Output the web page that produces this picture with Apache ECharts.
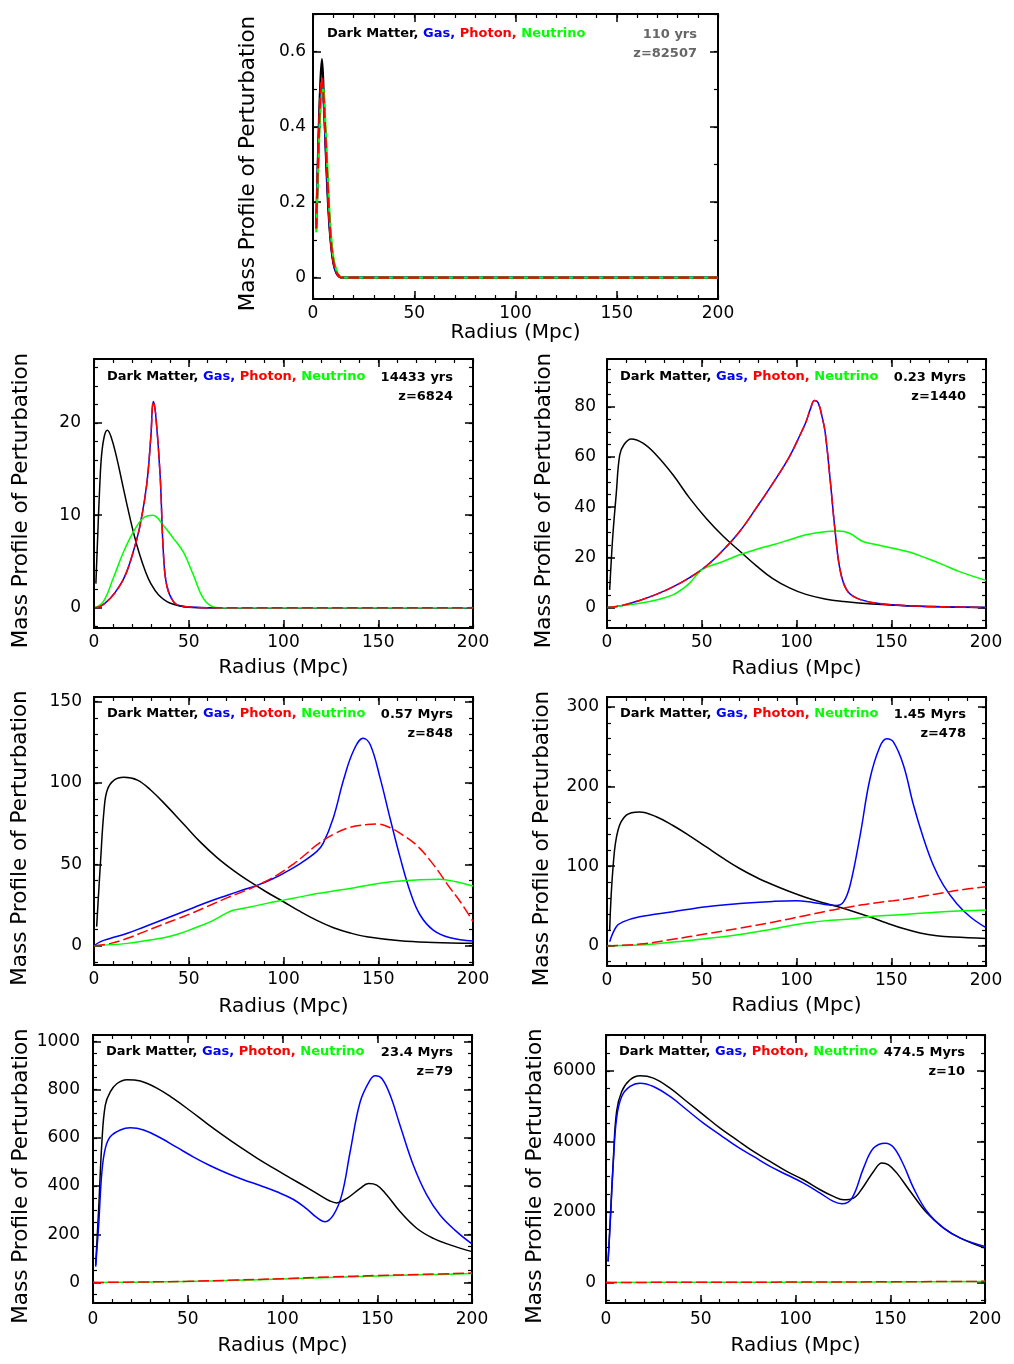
<!DOCTYPE html>
<html>
<head>
<meta charset="utf-8">
<title>Mass Profile of Perturbation</title>
<script src="https://cdn.jsdelivr.net/npm/echarts@6/dist/echarts.min.js"></script>
<style>html,body{margin:0;padding:0;background:#fff}</style>
</head>
<body>
<div id="chart" style="width:1014px;height:1364px"></div>
<script type="text/javascript">
// ---- data: [radius (Mpc), mass profile] ----
var xTicks = [0, 50, 100, 150, 200];

// panel 1 : 110 yrs
var p1_yTicks = [0, 0.2, 0.4, 0.6];
var p1_dm = [[1.6,0.14],[2.5,0.33],[3.5,0.5],[4.4,0.58],[5.2,0.5],[6.2,0.35],[7.3,0.21],[8.5,0.11],[10,0.04],[11.5,0.012],[13,0.002],[14,0],[60,0],[200,0]];
var p1_gas = [[1.6,0.13],[2.5,0.3],[3.5,0.45],[4.4,0.51],[5.2,0.47],[6.2,0.36],[7.3,0.23],[8.5,0.12],[10,0.045],[11.5,0.015],[13,0.003],[14,0],[60,0],[200,0]];
var p1_photon = [[1.6,0.13],[2.5,0.31],[3.5,0.47],[4.4,0.53],[5.2,0.48],[6.2,0.37],[7.3,0.24],[8.5,0.12],[10,0.045],[11.5,0.015],[13,0.003],[14,0],[60,0],[200,0]];
var p1_nu = [[1.6,0.12],[2.5,0.28],[3.5,0.43],[4.4,0.49],[5,0.5],[6.2,0.4],[7.3,0.27],[8.5,0.14],[10,0.055],[11.5,0.02],[13,0.004],[14.5,0],[60,0],[200,0]];

// panel 2 : 14433 yrs
var p2_yTicks = [0, 10, 20];
var p2_dm = [[1,2.6],[2,8],[3,13],[4,16.5],[5.5,18.6],[7,19.2],[9,18.5],[12,16.2],[15,13.4],[18,10.6],[21,8],[24,5.8],[27,4],[30,2.6],[34,1.4],[40,0.5],[50,0.05],[60,0],[200,0]];
var p2_gas = [[0.5,0],[3,0.1],[8.5,1.0],[13.7,2.4],[17.3,3.9],[20.8,6.1],[24.3,8.9],[27.8,13.3],[30,18.5],[31.3,22.3],[32.5,21],[34.9,14.3],[36.6,6],[38.4,2.4],[41.9,0.65],[45.4,0.2],[52.5,0.04],[60,0],[200,0]];
var p2_photon = [[0.5,0],[3,0.1],[8.5,1.0],[13.7,2.4],[17.3,3.9],[20.8,6.1],[24.3,8.9],[27.8,13.3],[30,18.5],[31.3,22.3],[32.5,21],[34.9,14.3],[36.6,6],[38.4,2.4],[41.9,0.65],[45.4,0.2],[52.5,0.04],[60,0],[200,0]];
var p2_nu = [[0.5,0],[4.9,0.65],[10.2,3.2],[15.5,6],[20.8,8.2],[26,9.7],[31,10],[36.6,8.9],[41.9,7.5],[47.2,6],[52.5,3.5],[57.7,1.0],[63,0.07],[66,0],[200,0]];

// panel 3 : 0.23 Myrs
var p3_yTicks = [0, 20, 40, 60, 80];
var p3_dm = [[1.4,7],[2.2,18],[3.2,30],[4.9,45.5],[6.7,60.8],[9,65],[12.8,67.2],[19,65.5],[26,60.8],[34.8,52.9],[43.6,43.6],[52.4,35.5],[61.2,28.5],[70,22.5],[79,16.5],[87.5,11.5],[96.3,7.8],[105,5.2],[115,3.4],[125,2.4],[140,1.4],[160,0.6],[180,0.2],[200,0]];
var p3_gas = [[0,0],[8,0.8],[17.2,2.8],[26,5.2],[34.8,8.2],[43.6,11.9],[52.4,16.5],[61.2,22.8],[70,30.3],[78.7,39.6],[87.5,49.5],[96.3,60.2],[102,69],[105,74],[107.5,79.5],[109.5,82.5],[111.5,81.5],[113.5,76],[115.1,70],[117.7,51.5],[120.4,30.3],[123,15],[126.5,7],[131.8,3.7],[142.4,1.7],[160,0.66],[177.5,0.27],[200,0]];
var p3_photon = [[0,0],[8,0.8],[17.2,2.8],[26,5.2],[34.8,8.2],[43.6,11.9],[52.4,16.5],[61.2,22.8],[70,30.3],[78.7,39.6],[87.5,49.5],[96.3,60.2],[102,69],[105,74],[107.5,79.5],[109.5,82.5],[111.5,81.5],[113.5,76],[115.1,70],[117.7,51.5],[120.4,30.3],[123,15],[126.5,7],[131.8,3.7],[142.4,1.7],[160,0.66],[177.5,0.27],[200,0]];
var p3_nu = [[0,0],[17.2,1.7],[26,3],[34.8,5],[40,7.5],[43.6,9.7],[48.9,14.3],[52.4,16],[61.2,18.3],[70,21],[79,23.2],[87.5,25],[96.3,27],[105,29],[115.9,30.3],[122,30.5],[128,29.6],[135,26.3],[142.4,25],[151,23.6],[160,22],[168.7,19.6],[177.5,17],[186,14.3],[200,10.8]];

// panel 4 : 0.57 Myrs
var p4_yTicks = [0, 50, 100, 150];
var p4_dm = [[1.4,11.7],[3.5,52.7],[5.3,83.4],[7,95.7],[10.6,101.8],[15.8,103.5],[22.9,101.8],[29.9,95.7],[38.7,85.5],[47.5,74.5],[56.3,63.5],[65.1,54],[73.9,46],[82.7,39],[91,33],[100,27],[108,21.5],[117.6,15.5],[126.4,11],[135.2,7.8],[144,5.5],[161.6,3],[179,2],[200,1.5]];
var p4_gas = [[0,0],[3.5,2.5],[8.8,4.5],[17.6,7.6],[26.4,11.5],[35.2,15.5],[44,19.5],[52.8,23.5],[61.6,27.5],[70.4,31],[79.2,34.5],[87,37.5],[95,41.5],[100,44.5],[108.8,50.5],[117.6,58],[121,63],[126.4,79],[131.7,102],[137,120],[142,127.5],[145.8,123.5],[151,103],[156.3,78],[161.6,54],[166.9,33],[172,19],[179,9.6],[188,4.9],[200,2.9]];
var p4_photon = [[0,0],[8.8,1.4],[17.6,4.5],[26.4,8.5],[35.2,12.5],[44,16.5],[52.8,20.5],[61.6,25],[70.4,29.5],[79.2,33.5],[87,37.5],[96.8,43.5],[105.6,50.5],[112,56.5],[117.6,62],[126.4,68.5],[135.2,72.8],[144,74.5],[149,74.8],[156.3,72.5],[161.6,69],[170,62],[179,50],[188,35.2],[193.3,27],[200,14.8]];
var p4_nu = [[0,0],[17.6,1.4],[29.6,3.5],[35.2,4.5],[44,7],[52.8,10.7],[61.6,14.8],[70.4,20.3],[73.9,21.9],[82.4,23.8],[91.2,26],[100,28],[108.8,30],[117.6,32],[126.4,33.6],[135.2,35.2],[144,37],[152.8,38.7],[161.6,39.8],[170,40.4],[182.4,40.8],[191,39.3],[200,36.7]];

// panel 5 : 1.45 Myrs
var p5_yTicks = [0, 100, 200, 300];
var p5_dm = [[1.4,19.7],[3.2,99],[5.8,145],[10.2,164],[17.2,168],[26,162],[34.8,151],[43.6,138],[52.4,124],[61.2,110],[70,97],[78.7,86],[87.5,76.5],[96.3,68],[105,60.5],[114,54],[121,49.5],[130,43],[138.8,36],[147.6,28.5],[156.4,21.5],[165.2,16],[174,12.6],[182.8,10.9],[200,9.2]];
var p5_gas = [[1.4,5],[4.9,23.8],[8.4,30],[17.2,36.4],[34.8,42.7],[52.4,49],[70,53],[87.5,55.6],[99.8,56.5],[108.6,54.4],[116,51.5],[121,50.5],[124.8,55],[128.3,76],[133.6,139],[138.8,210],[144,250],[147.6,260],[151.1,256],[156.4,227],[161.7,177],[167,135],[172.2,101],[177.5,76],[184.5,53],[191.6,36.4],[200,22.6]];
var p5_photon = [[0,0],[17.2,2],[34.8,8],[52.4,15],[70,22],[87.5,29.5],[105,38],[116,43.5],[124,47],[133.6,51],[142.4,54],[151,56.5],[160,59.5],[168.7,63],[177.5,66.5],[186.3,70],[200,74]];
var p5_nu = [[0,0],[17.2,0.8],[34.8,4.5],[52.4,9],[70,14],[87.5,21],[100,26.5],[107,29],[116,31.5],[124.8,33],[142.4,37.2],[160,39.7],[177.5,42.7],[200,44.8]];

// panel 6 : 23.4 Myrs
var p6_yTicks = [0, 200, 400, 600, 800, 1000];
var p6_dm = [[1.4,73],[3,307],[4.7,583],[6.5,735],[9.1,790],[12.7,825],[17.9,841],[25,835],[33.7,806],[42.5,762],[51.3,712],[60,660],[68.9,609],[77.7,561],[86.5,516],[95.3,474],[104,434],[113,393],[120,360],[125,338],[128.6,330],[134,349],[141,390],[145.4,410],[149.7,404],[155,363],[162,294],[170.8,225],[179.6,183],[188.4,156],[200,128]];
var p6_gas = [[1.4,66],[3,239],[4.7,459],[6.5,556],[9.1,604],[14.4,632],[19.7,641],[26.7,632],[35.5,600],[44.3,560],[53.1,520],[61.9,484],[70.7,453],[79.4,426],[88.2,402],[97,376],[105.8,344],[112.8,305],[118,270],[122.5,252],[126.9,280],[131.3,363],[135.7,542],[141,749],[146.2,839],[148.9,857],[152.4,846],[156.8,777],[162,652],[169,487],[176.1,363],[183.1,280],[191.9,211],[200,160]];
var p6_photon = [[0,0],[25,2],[50,5],[75,10],[100,16],[125,23],[150,29],[175,34],[200,39]];
var p6_nu = [[0,0],[25,1.5],[50,4.5],[75,9],[100,15],[125,21],[150,27],[175,32],[200,37]];

// panel 7 : 474.5 Myrs
var p7_yTicks = [0, 2000, 4000, 6000];
var p7_dm = [[1.1,595],[2.1,1635],[3.9,3525],[5.6,4849],[8.3,5416],[12.7,5747],[18,5860],[25,5794],[33.8,5510],[42.6,5132],[51.4,4754],[60.2,4376],[69,4045],[77.8,3715],[86.6,3431],[95.4,3147],[104.2,2911],[113,2628],[120,2439],[125.4,2344],[130.6,2391],[135.9,2722],[141.2,3147],[145.6,3384],[149.1,3336],[153.5,3100],[160.6,2580],[169.4,1966],[178.2,1541],[187,1257],[200,973]];
var p7_gas = [[1.1,595],[2.1,1540],[3.9,3430],[5.6,4660],[8.3,5274],[12.7,5558],[18,5652],[25,5558],[33.8,5274],[42.6,4896],[51.4,4518],[60.2,4187],[69,3856],[77.8,3572],[86.6,3289],[95.4,3053],[104.2,2817],[113,2533],[120,2297],[124.5,2230],[129.8,2391],[135.9,3242],[141.2,3809],[147.4,3950],[151.8,3828],[157,3336],[162.3,2675],[169.4,2013],[178.2,1541],[187,1257],[200,1020]];
var p7_photon = [[0,0],[50,3],[100,10],[150,18],[200,30]];
var p7_nu = [[0,0],[50,2],[100,7],[150,14],[200,24]];

var ages = ['110 yrs', '14433 yrs', '0.23 Myrs', '0.57 Myrs', '1.45 Myrs', '23.4 Myrs', '474.5 Myrs'];
var redshifts = ['z=82507', 'z=6824', 'z=1440', 'z=848', 'z=478', 'z=79', 'z=10'];

// ---- layout of the seven panels ----
var panels = [
    {left:313, top:14,   width:405, height:285, ymin:-0.057, ymax:0.70, yTicks:p1_yTicks, yMinor:0.1,  series:[p1_dm,p1_gas,p1_nu,p1_photon], lw:2.2, yGap:54, xGap:24, yMargin:7,  xMargin:6, legX:327, legY:34,  timeR:697, gray:true},
    {left:94,  top:359,  width:379, height:269, ymin:-2.2,   ymax:26.9, yTicks:p2_yTicks, yMinor:2,    series:[p2_dm,p2_gas,p2_nu,p2_photon], lw:1.5, yGap:62, xGap:30, yMargin:13, xMargin:6, legX:107, legY:377, timeR:453},
    {left:607, top:359,  width:379, height:269, ymin:-8.2,   ymax:99.1, yTicks:p3_yTicks, yMinor:5,    series:[p3_dm,p3_gas,p3_nu,p3_photon], lw:1.5, yGap:52, xGap:31, yMargin:11, xMargin:6, legX:620, legY:377, timeR:966},
    {left:94,  top:697,  width:379, height:268, ymin:-11.9,  ymax:152.9,yTicks:p4_yTicks, yMinor:10,   series:[p4_dm,p4_gas,p4_nu,p4_photon], lw:1.5, yGap:63, xGap:32, yMargin:12, xMargin:6, legX:107, legY:714, timeR:453},
    {left:607, top:697,  width:379, height:269, ymin:-25.5,  ymax:312.4,yTicks:p5_yTicks, yMinor:20,   series:[p5_dm,p5_gas,p5_nu,p5_photon], lw:1.5, yGap:54, xGap:30, yMargin:8,  xMargin:6, legX:620, legY:714, timeR:966},
    {left:93,  top:1035, width:379, height:268, ymin:-85,    ymax:1026, yTicks:p6_yTicks, yMinor:50,   series:[p6_dm,p6_gas,p6_nu,p6_photon], lw:1.5, yGap:60, xGap:33, yMargin:13, xMargin:8, legX:106, legY:1052,timeR:453},
    {left:606, top:1035, width:379, height:268, ymin:-584,   ymax:7017, yTicks:p7_yTicks, yMinor:500,  series:[p7_dm,p7_gas,p7_nu,p7_photon], lw:1.5, yGap:60, xGap:33, yMargin:10, xMargin:8, legX:619, legY:1052,timeR:965}
];

var colors = ['#000000', '#0000ff', '#00ff00', '#ff0000'];
var tickFont = 'DejaVu Sans';
var textFont = 'DejaVu Sans';

function stepTicks(min, max, step) {
    var out = [];
    for (var k = Math.ceil(min / step - 1e-9); k * step <= max + 1e-9; k++) {
        out.push(+(k * step).toFixed(6));
    }
    return out;
}
function plain(v) { return String(v); }

var grids = [], xAxes = [], yAxes = [], series = [], titles = [];
var xMinor = stepTicks(0, 200, 10);

panels.forEach(function (p, i) {
    grids.push({left:p.left, top:p.top, width:p.width, height:p.height, show:true,
        borderColor:'#000', borderWidth:2, backgroundColor:'transparent'});
    var yMinor = stepTicks(p.ymin, p.ymax, p.yMinor);

    var xBase = {gridIndex:i, type:'value', min:0, max:200, axisLine:{show:false, onZero:false}, splitLine:{show:false}};
    var yBase = {gridIndex:i, type:'value', min:p.ymin, max:p.ymax, axisLine:{show:false, onZero:false}, splitLine:{show:false}};
    var majT = function (vals) { return {show:true, inside:true, length:8, customValues:vals, lineStyle:{color:'#000', width:1.5}}; };
    var minT = function (vals) { return {show:true, inside:true, length:4, customValues:vals, lineStyle:{color:'#000', width:1.2}}; };
    var noLab = {show:false};

    // x axes: bottom major (labels + name), bottom minor, top major, top minor
    xAxes.push(Object.assign({}, xBase, {position:'bottom', axisTick:majT(xTicks),
        axisLabel:{customValues:xTicks, formatter:plain, margin:p.xMargin, fontFamily:tickFont, fontSize:17, color:'#000'},
        name:'Radius (Mpc)', nameLocation:'middle', nameGap:p.xGap,
        nameTextStyle:{fontFamily:tickFont, fontSize:20, color:'#000'}}));
    xAxes.push(Object.assign({}, xBase, {position:'bottom', axisTick:minT(xMinor), axisLabel:noLab}));
    xAxes.push(Object.assign({}, xBase, {position:'top', axisTick:majT(xTicks), axisLabel:noLab}));
    xAxes.push(Object.assign({}, xBase, {position:'top', axisTick:minT(xMinor), axisLabel:noLab}));

    // y axes: left major (labels + name), left minor, right major, right minor
    yAxes.push(Object.assign({}, yBase, {position:'left', axisTick:majT(p.yTicks),
        axisLabel:{customValues:p.yTicks, formatter:plain, margin:p.yMargin, fontFamily:tickFont, fontSize:17, color:'#000'},
        name:'Mass Profile of Perturbation', nameLocation:'middle', nameGap:p.yGap,
        nameTextStyle:{fontFamily:tickFont, fontSize:21.5, color:'#000', padding:[0, 14, 0, 0]}}));
    yAxes.push(Object.assign({}, yBase, {position:'left', axisTick:minT(yMinor), axisLabel:noLab}));
    yAxes.push(Object.assign({}, yBase, {position:'right', axisTick:majT(p.yTicks), axisLabel:noLab}));
    yAxes.push(Object.assign({}, yBase, {position:'right', axisTick:minT(yMinor), axisLabel:noLab}));

    // curves: dark matter, gas, neutrino, then dashed photon on top
    p.series.forEach(function (d, k) {
        series.push({
            type:'line', xAxisIndex:i * 4, yAxisIndex:i * 4, data:d,
            symbol:'none', smooth:0.4, silent:true, clip:true,
            lineStyle:{color:colors[k], width:p.lw, type:(k === 3 ? [11, 4] : 'solid')},
            z:2 + k
        });
    });

    var tc = p.gray ? '#666' : '#000';
    titles.push({
        left:p.legX, top:p.legY - 8, padding:0,
        text:'{k|Dark Matter, }{b|Gas, }{r|Photon, }{g|Neutrino}',
        textStyle:{rich:{
            k:{color:'#000', fontFamily:textFont, fontSize:13, fontWeight:'bold', lineHeight:16},
            b:{color:'#0000ff', fontFamily:textFont, fontSize:13, fontWeight:'bold', lineHeight:16},
            r:{color:'#ff0000', fontFamily:textFont, fontSize:13, fontWeight:'bold', lineHeight:16},
            g:{color:'#00ff00', fontFamily:textFont, fontSize:13, fontWeight:'bold', lineHeight:16}
        }}
    });
    titles.push({right:1014 - p.timeR, top:p.legY - 7, padding:0, text:ages[i],
        textStyle:{color:tc, fontFamily:textFont, fontSize:13, fontWeight:'bold', lineHeight:16}});
    titles.push({right:1014 - p.timeR, top:p.legY + 12, padding:0, text:redshifts[i],
        textStyle:{color:tc, fontFamily:textFont, fontSize:13, fontWeight:'bold', lineHeight:16}});
});

var myChart = echarts.init(document.getElementById('chart'));
myChart.setOption({
    animation:false,
    backgroundColor:'#fff',
    title:titles,
    grid:grids,
    xAxis:xAxes,
    yAxis:yAxes,
    series:series
});
</script>
</body>
</html>
